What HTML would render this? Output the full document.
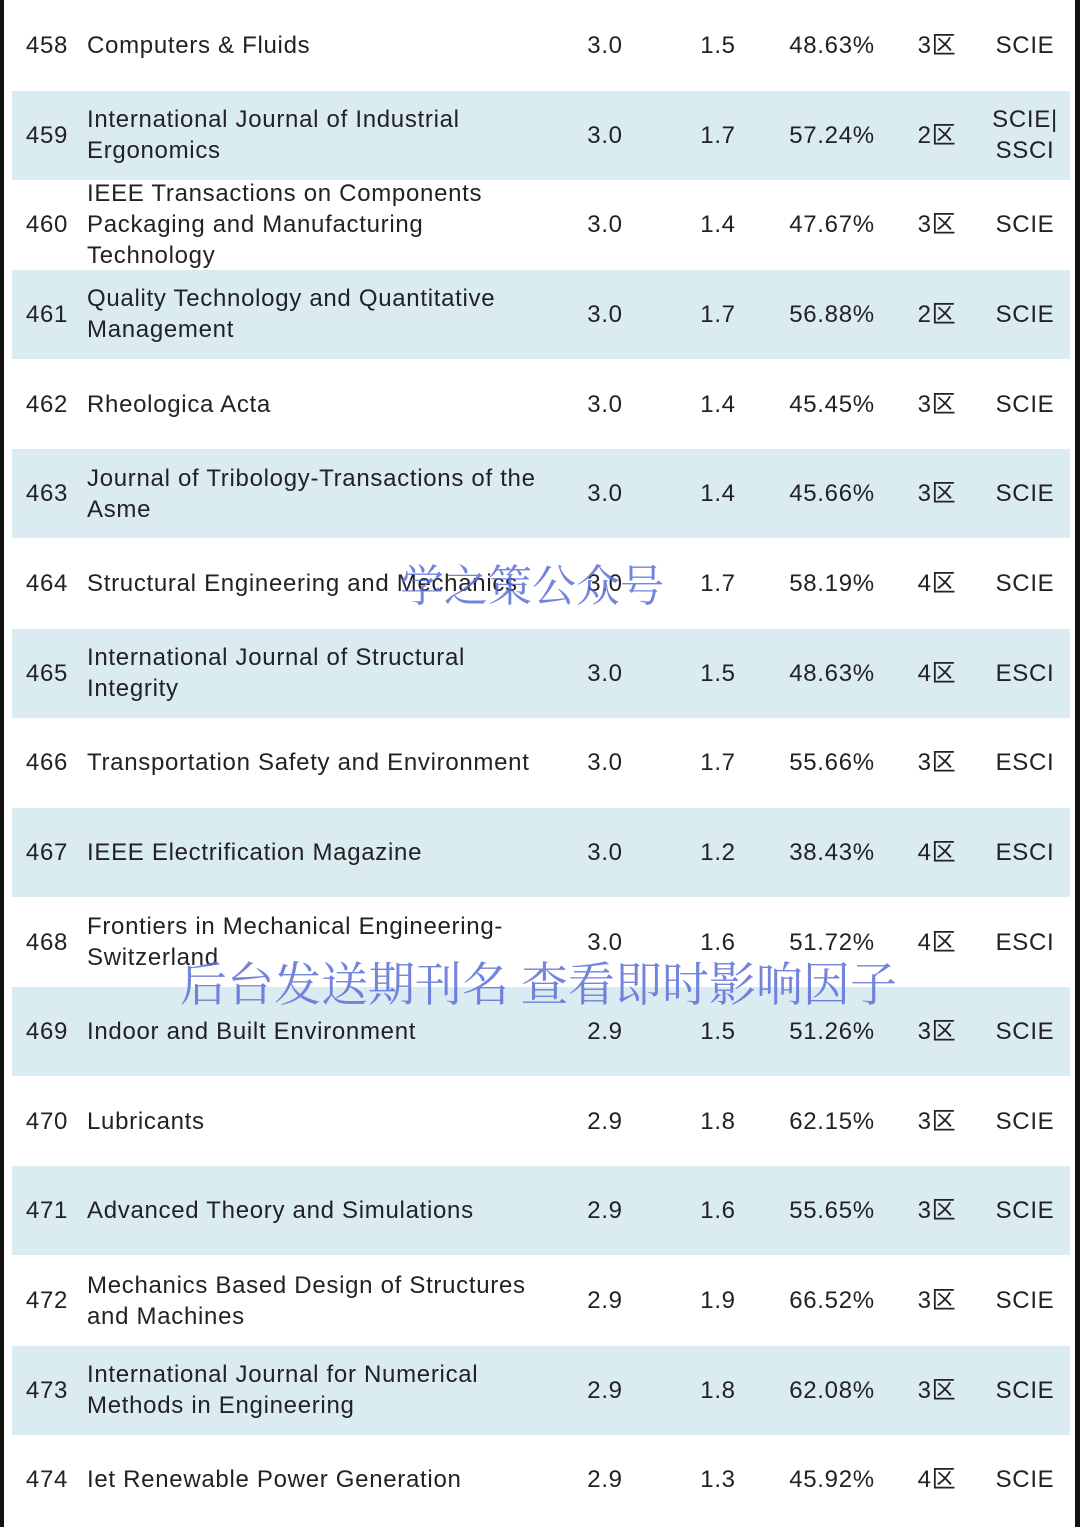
<!DOCTYPE html>
<html><head><meta charset="utf-8"><style>
body{margin:0;width:1080px;height:1527px;background:#fff;position:relative;overflow:hidden;font-family:"Liberation Sans","Noto Sans CJK SC",sans-serif;color:#222;}
.edge{position:absolute;top:0;height:1527px;background:#111;}
.row{position:absolute;left:12px;width:1058px;height:89px;}
.row.b{background:#dbebf2;}
.c{position:absolute;top:0;height:89px;display:flex;align-items:center;font-size:24px;line-height:31px;letter-spacing:0.7px;white-space:nowrap;}
.num{left:0;width:70px;justify-content:center;}
.name{left:75px;width:480px;}
.v{justify-content:center;text-align:center;}
.wm{position:absolute;font-family:"Noto Serif CJK SC",serif;color:rgba(90,110,215,0.85);white-space:nowrap;}
</style></head><body>
<div class="edge" style="left:0;width:4px"></div>
<div class="edge" style="left:1075px;width:5px"></div>
<div id="tbl"></div>
<div class="wm" style="left:400px;top:550px;font-size:44px">学之策公众号</div>
<div class="wm" style="left:180px;top:948px;font-size:47px">后台发送期刊名 查看即时影响因子</div>
<script>
const ranks=[458,459,460,461,462,463,464,465,466,467,468,469,470,471,472,473,474];
const names=["Computers &amp; Fluids","International Journal of Industrial<br>Ergonomics","IEEE Transactions on Components<br>Packaging and Manufacturing<br>Technology","Quality Technology and Quantitative<br>Management","Rheologica Acta","Journal of Tribology-Transactions of the<br>Asme","Structural Engineering and Mechanics","International Journal of Structural<br>Integrity","Transportation Safety and Environment","IEEE Electrification Magazine","Frontiers in Mechanical Engineering-<br>Switzerland","Indoor and Built Environment","Lubricants","Advanced Theory and Simulations","Mechanics Based Design of Structures<br>and Machines","International Journal for Numerical<br>Methods in Engineering","Iet Renewable Power Generation"];
const ifs=["3.0","3.0","3.0","3.0","3.0","3.0","3.0","3.0","3.0","3.0","3.0","2.9","2.9","2.9","2.9","2.9","2.9"];
const jci=["1.5","1.7","1.4","1.7","1.4","1.4","1.7","1.5","1.7","1.2","1.6","1.5","1.8","1.6","1.9","1.8","1.3"];
const pct=["48.63%","57.24%","47.67%","56.88%","45.45%","45.66%","58.19%","48.63%","55.66%","38.43%","51.72%","51.26%","62.15%","55.65%","66.52%","62.08%","45.92%"];
const zones=["3区","2区","3区","2区","3区","3区","4区","4区","3区","4区","4区","3区","3区","3区","3区","3区","4区"];
const idx=["SCIE","SCIE|<br>SSCI","SCIE","SCIE","SCIE","SCIE","SCIE","ESCI","ESCI","ESCI","ESCI","SCIE","SCIE","SCIE","SCIE","SCIE","SCIE"];
const cols=[[555,76],[668,76],[762,116],[890,70],[975,76]];
const t=document.getElementById('tbl');
ranks.forEach((r,i)=>{
 const row=document.createElement('div');
 row.className='row'+(i%2?' b':'');
 row.style.top=(i*89.65+1)+'px';
 
 
 let h='<div class="c num">'+r+'</div>';
 h+='<div class="c name"><span>'+names[i]+'</span></div>';
 const vals=[ifs[i],jci[i],pct[i],zones[i],idx[i]];
 const nm=['impact-factor','jci','percentile','zone','index'];
 vals.forEach((v,k)=>{h+='<div class="c v" style="left:'+cols[k][0]+'px;width:'+cols[k][1]+'px"><span>'+v+'</span></div>';});
 row.innerHTML=h;
 t.appendChild(row);
});
</script>
</body></html>
